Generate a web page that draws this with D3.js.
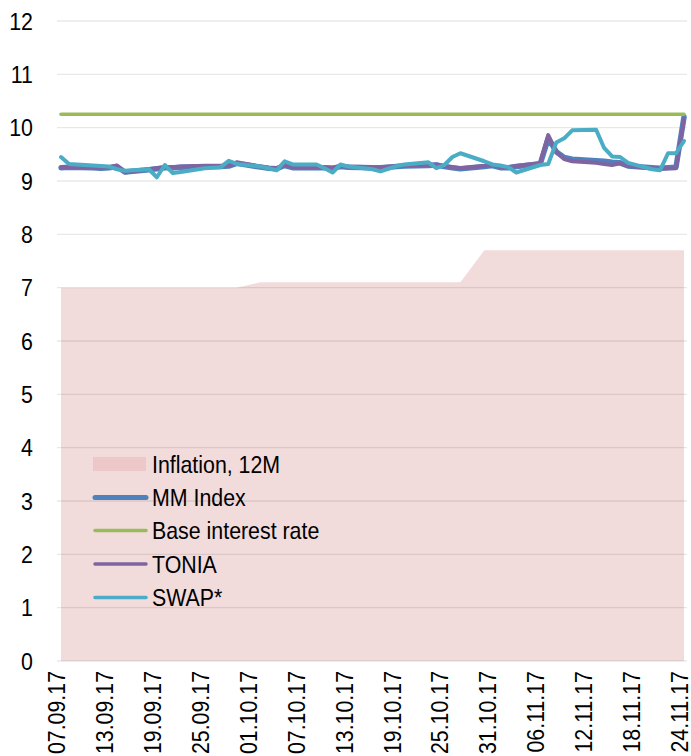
<!DOCTYPE html>
<html>
<head>
<meta charset="utf-8">
<script src="https://cdn.jsdelivr.net/npm/d3@7"></script>
<style>
  html, body { margin: 0; padding: 0; background: #fff; }
  svg { display: block; }
  text { font-family: "Liberation Sans", Arial, sans-serif; fill: #000; }
</style>
</head>
<body>
<svg id="chart" width="691" height="756"></svg>
<script>
// ---------- DATA ----------
const dates = [
  "07.09.17","08.09.17","11.09.17","12.09.17","13.09.17","14.09.17","15.09.17",
  "18.09.17","19.09.17","20.09.17","21.09.17","22.09.17","25.09.17","26.09.17",
  "27.09.17","28.09.17","29.09.17","02.10.17","03.10.17","04.10.17","05.10.17",
  "06.10.17","09.10.17","10.10.17","11.10.17","12.10.17","13.10.17","16.10.17",
  "17.10.17","18.10.17","19.10.17","20.10.17","23.10.17","24.10.17","25.10.17",
  "26.10.17","27.10.17","30.10.17","31.10.17","01.11.17","02.11.17","03.11.17",
  "06.11.17","07.11.17","08.11.17","09.11.17","10.11.17","13.11.17","14.11.17",
  "15.11.17","16.11.17","17.11.17","20.11.17","21.11.17","22.11.17","23.11.17",
  "24.11.17"
];
const inflation = [
  7.0,7.0,7.0,7.0,7.0,7.0,7.0, 7.0,7.0,7.0,7.0,7.0,7.0,7.0, 7.0,7.0,7.0,
  7.1,7.1,7.1,7.1, 7.1,7.1,7.1,7.1,7.1,7.1,7.1, 7.1,7.1,7.1,7.1,7.1,7.1,7.1,
  7.1,7.1, 7.7,7.7,7.7,7.7,7.7, 7.7,7.7,7.7,7.7,7.7,7.7,7.7, 7.7,7.7,7.7,7.7,7.7,7.7,7.7, 7.7
];
const mmIndex = [
  9.25,9.26,9.25,9.24,9.25,9.27,9.17, 9.21,9.23,9.25,9.25,9.26,9.27,9.27,
  9.27,9.28,9.33,9.26,9.24,9.23,9.29, 9.25,9.25,9.25,9.24,9.27,9.26,9.25,
  9.25,9.26,9.27,9.28,9.29,9.30,9.27, 9.25,9.23,9.27,9.29,9.25,9.25,9.27,
  9.32,9.80,9.55,9.44,9.41,9.38,9.37, 9.35,9.34,9.28,9.25,9.24,9.25,9.26,
  10.20
];
const baseRate = dates.map(() => 10.25);
const tonia = [
  9.26,9.26,9.25,9.25,9.26,9.29,9.16, 9.22,9.24,9.26,9.26,9.27,9.28,9.28,
  9.28,9.29,9.35,9.27,9.25,9.24,9.30, 9.26,9.26,9.26,9.25,9.28,9.27,9.26,
  9.26,9.27,9.28,9.29,9.30,9.31,9.28, 9.26,9.24,9.28,9.30,9.26,9.26,9.28,
  9.34,9.86,9.55,9.41,9.37,9.34,9.32, 9.30,9.33,9.28,9.24,9.23,9.24,9.24,
  10.16
];
const swap = [
  9.45,9.32,9.29,9.28,9.27,9.22,9.19, 9.22,9.07,9.30,9.15,9.17,9.24,9.25,
  9.26,9.38,9.32,9.27,9.24,9.20,9.37, 9.31,9.31,9.24,9.16,9.31,9.27,9.22,
  9.18,9.23,9.28,9.31,9.35,9.24,9.30, 9.45,9.52,9.37,9.31,9.29,9.26,9.16,
  9.30,9.32,9.72,9.80,9.95,9.96,9.62, 9.46,9.45,9.34,9.22,9.20,9.52,9.52,
  9.75
];
const yTicks = [0,1,2,3,4,5,6,7,8,9,10,11,12];
const xTickLabels = ["07.09.17","13.09.17","19.09.17","25.09.17","01.10.17","07.10.17",
  "13.10.17","19.10.17","25.10.17","31.10.17","06.11.17","12.11.17","18.11.17","24.11.17"];
const legendLabels = ["Inflation, 12M","MM Index","Base interest rate","TONIA","SWAP*"];

// ---------- CHART ----------
const parse = d3.timeParse("%d.%m.%y");
const svg = d3.select("#chart");
const FS = 24, SX = 0.89;

const x = d3.scaleTime()
  .domain([parse("07.09.17"), parse("24.11.17")])
  .range([61, 684]);
const y = d3.scaleLinear().domain([0, 12]).range([661, 21]);

const rows = dates.map((d, i) => ({
  date: parse(d), infl: inflation[i], mm: mmIndex[i], base: baseRate[i],
  tonia: tonia[i], swap: swap[i]
}));

// inflation area
svg.append("path")
  .datum(rows)
  .attr("fill", "#f1dbdb")
  .attr("d", d3.area().x(d => x(d.date)).y0(y(0)).y1(d => y(d.infl)));

// gridlines
svg.append("g").selectAll("line").data(yTicks).join("line")
  .attr("x1", 57).attr("x2", 687)
  .attr("y1", d => y(d)).attr("y2", d => y(d))
  .attr("stroke", "rgba(0,0,0,0.09)").attr("stroke-width", 1.3);

// y axis labels
svg.append("g").selectAll("g").data(yTicks).join("g")
  .attr("transform", d => `translate(33,${y(d)}) scale(${SX},1)`)
  .append("text")
  .attr("text-anchor", "end").attr("dy", "0.36em")
  .style("font-size", FS + "px")
  .text(d => d);

// x axis labels (rotated)
svg.append("g").selectAll("g").data(xTickLabels).join("g")
  .attr("transform", d => `translate(${x(parse(d))},671) rotate(-90) scale(${SX},1)`)
  .append("text")
  .attr("text-anchor", "end").attr("dy", "0.17em")
  .style("font-size", FS + "px")
  .text(d => d);

// lines
const mkLine = key => d3.line().x(d => x(d.date)).y(d => y(d[key]));
const series = [
  { key: "mm", color: "#4f81bd", w: 5.5 },
  { key: "base", color: "#9bbb59", w: 3.5 },
  { key: "tonia", color: "#8064a2", w: 4 },
  { key: "swap", color: "#4bacc6", w: 4 }
];
series.forEach(s => {
  svg.append("path").datum(rows)
    .attr("fill", "none").attr("stroke", s.color).attr("stroke-width", s.w)
    .attr("stroke-linejoin", "round").attr("stroke-linecap", "round")
    .attr("d", mkLine(s.key));
});

// legend
const legY = [464, 497.5, 530.5, 564, 597.5];
const leg = svg.append("g");
leg.append("rect").attr("x", 93).attr("y", 457).attr("width", 53).attr("height", 14)
  .attr("fill", "#ecc8c8");
const legLines = [null, series[0], series[1], series[2], series[3]];
legLines.forEach((s, i) => {
  if (!s) return;
  leg.append("line").attr("x1", 95).attr("x2", 146)
    .attr("y1", legY[i]).attr("y2", legY[i])
    .attr("stroke", s.color).attr("stroke-width", i === 1 ? 5 : 3.5)
    .attr("stroke-linecap", "round");
});
leg.selectAll("g.lt").data(legendLabels).join("g").attr("class", "lt")
  .attr("transform", (d, i) => `translate(152,${legY[i]}) scale(${SX},1)`)
  .append("text").attr("dy", "0.36em").style("font-size", FS + "px")
  .text(d => d);
</script>
</body>
</html>
